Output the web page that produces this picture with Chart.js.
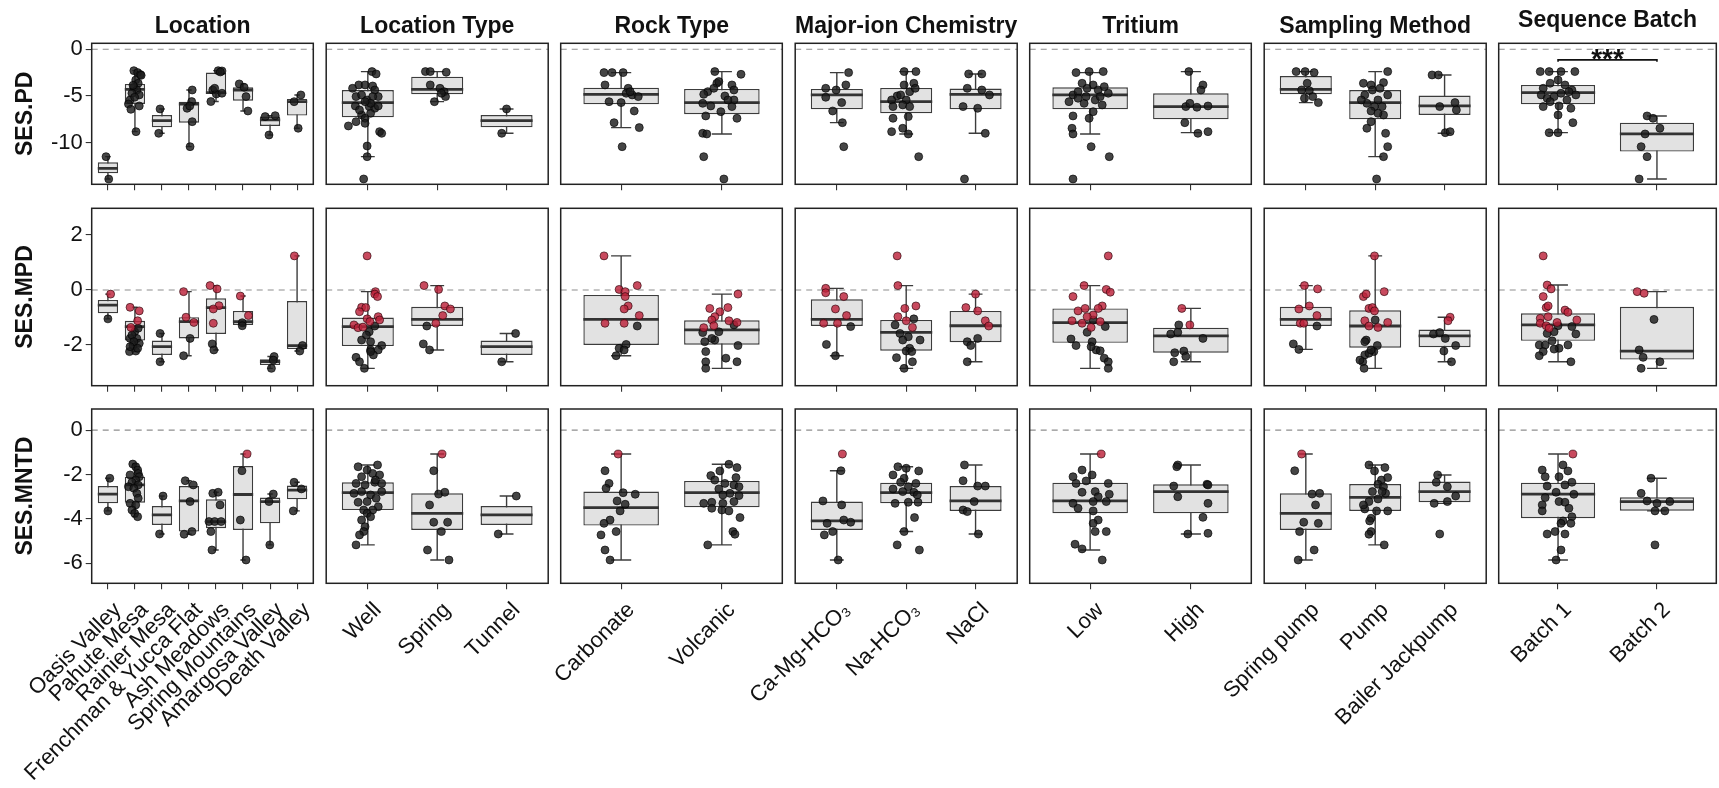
<!DOCTYPE html>
<html>
<head>
<meta charset="utf-8">
<title>SES diversity by grouping</title>
<script src="https://cdn.jsdelivr.net/npm/chart.js@4.4.1/dist/chart.umd.min.js"></script>
<style>
  html, body { margin: 0; padding: 0; background: #fff; overflow: hidden; }
  #fig { position: relative; width: 1719px; height: 788px; }
  #fig canvas { position: absolute; }
  .facet { position: absolute; font: bold 23px "Liberation Sans", Arial, sans-serif; color: #111;
           white-space: nowrap; transform: translate(-50%, -50%); }
</style>
</head>
<body>
<div id="fig"></div>
<script>
// ---------- data ----------
const facetTitles = ["Location", "Location Type", "Rock Type", "Major-ion Chemistry", "Tritium", "Sampling Method", "Sequence Batch"];
const facetCategories = [
  ["Oasis Valley", "Pahute Mesa", "Rainier Mesa", "Frenchman & Yucca Flat", "Ash Meadows", "Spring Mountains", "Amargosa Valley", "Death Valley"],
  ["Well", "Spring", "Tunnel"],
  ["Carbonate", "Volcanic"],
  ["Ca-Mg-HCO₃", "Na-HCO₃", "NaCl"],
  ["Low", "High"],
  ["Spring pump", "Pump", "Bailer Jackpump"],
  ["Batch 1", "Batch 2"]
];
const metricNames = ["SES.PD", "SES.MPD", "SES.MNTD"];
const metricTicks = [[0, -5, -10], [2, 0, -2], [0, -2, -4, -6]];
const metricRanges = [[-14.46, 0.64], [-3.48, 2.97], [-6.9, 0.95]];

// significance bar (Sequence Batch, SES.PD)
const signifPair = [1, 2];
const signifY = -1.14;
const signifTextY = -0.25;
const signifLabel = "***";

// box stats per facet / category: [lower whisker, q1, median, q3, upper whisker]
const pdBoxes = [
  [[-13.9,-13.29,-12.75,-12.1,-11.5],[-8.82,-5.86,-4.29,-3.71,-2.29],[-9.0,-8.36,-7.64,-7.04,-6.39],[-10.43,-7.86,-5.86,-5.61,-4.36],
   [-5.6,-4.79,-4.64,-2.5,-2.29],[-6.61,-5.5,-4.36,-4.07,-3.71],[-9.18,-8.21,-7.57,-7.21,-7.11],[-8.46,-7.1,-5.6,-5.32,-4.89]],
  [[-11.5,-7.29,-5.71,-4.36,-2.39],[-5.61,-4.82,-4.29,-2.93,-2.39],[-9.0,-8.36,-7.64,-7.04,-6.39]],
  [[-8.39,-5.89,-4.82,-4.11,-2.5],[-9.07,-6.96,-5.71,-4.25,-2.39]],
  [[-7.86,-6.43,-4.89,-4.25,-2.5],[-9.07,-6.86,-5.61,-4.14,-2.39],[-9.0,-6.43,-4.82,-4.21,-2.64]],
  [[-9.07,-6.43,-4.89,-4.07,-2.5],[-8.93,-7.5,-6.14,-4.71,-2.39]],
  [[-5.71,-4.82,-4.29,-2.86,-2.39],[-11.5,-7.5,-5.71,-4.36,-2.39],[-9.0,-7.04,-6.07,-4.96,-2.75]],
  [[-8.93,-5.89,-4.64,-3.82,-2.39],[-13.89,-10.96,-9.07,-7.86,-7.14]]
];
const mpdBoxes = [
  [[-1.05,-0.85,-0.55,-0.36,-0.15],[-2.24,-1.84,-1.33,-1.12,-0.63],[-2.61,-2.36,-2.06,-1.84,-1.58],[-2.39,-1.76,-1.15,-0.99,-0.06],
   [-2.18,-1.6,-0.64,-0.3,0.16],[-1.3,-1.27,-1.15,-0.76,-0.22],[-2.85,-2.73,-2.6,-2.52,-2.42],[-2.22,-2.15,-2.02,-0.4,1.24]],
  [[-2.85,-2.04,-1.33,-1.0,-0.06],[-2.18,-1.31,-1.07,-0.61,0.16],[-2.61,-2.36,-2.06,-1.84,-1.58]],
  [[-2.39,-2.0,-1.07,-0.18,1.24],[-2.85,-1.99,-1.45,-1.1,-0.15]],
  [[-2.39,-1.31,-1.07,-0.34,0.06],[-2.85,-2.21,-1.54,-1.09,0.16],[-2.61,-1.9,-1.3,-0.76,-0.15]],
  [[-2.85,-1.92,-1.19,-0.67,0.16],[-2.61,-2.28,-1.67,-1.37,-0.67]],
  [[-2.16,-1.31,-1.07,-0.61,0.16],[-2.85,-2.1,-1.31,-0.74,1.24],[-2.61,-2.08,-1.67,-1.44,-0.99]],
  [[-2.61,-1.85,-1.27,-0.85,0.18],[-2.85,-2.53,-2.22,-0.61,-0.06]]
];
const mntdBoxes = [
  [[-3.64,-3.3,-2.88,-2.52,-2.17],[-3.9,-3.27,-2.47,-2.1,-1.53],[-4.68,-4.27,-3.82,-3.42,-2.97],[-4.69,-4.57,-3.19,-2.52,-2.28],
   [-5.4,-4.42,-4.12,-3.12,-2.8],[-5.85,-4.5,-2.9,-1.62,-1.08],[-5.17,-4.2,-3.22,-3.04,-2.88],[-3.64,-3.12,-2.7,-2.5,-2.35]],
  [[-5.17,-3.6,-2.82,-2.35,-1.57],[-5.85,-4.5,-3.75,-2.85,-1.08],[-4.68,-4.27,-3.82,-3.42,-2.97]],
  [[-5.85,-4.3,-3.49,-2.77,-1.08],[-5.17,-3.48,-2.82,-2.29,-1.54]],
  [[-5.85,-4.5,-4.09,-3.22,-1.83],[-4.57,-3.3,-2.82,-2.37,-1.65],[-4.68,-3.64,-3.19,-2.52,-1.57]],
  [[-5.4,-3.75,-3.19,-2.37,-1.08],[-4.68,-3.75,-2.77,-2.44,-1.57]],
  [[-5.85,-4.5,-3.75,-2.85,-1.08],[-5.17,-3.64,-3.03,-2.43,-1.57],[-3.3,-3.25,-2.77,-2.32,-2.02]],
  [[-5.85,-3.97,-2.88,-2.37,-1.08],[-3.64,-3.63,-3.22,-3.03,-2.17]]
];

// jittered samples per facet / category: [offset from category, value, 1 = significant (red)]
const pdPoints = [
  [
    [[-0.07,-11.5],[0.03,-13.9]],
    [[-0.04,-2.29],[0.1,-2.5],[0.2,-2.71],[0.03,-3.29],[0.12,-3.64],[-0.04,-4.07],[0.07,-4.36],[-0.11,-4.71],[0.16,-4.89],[-0.18,-5.43],[-0.01,-5.14],[-0.24,-5.86],[0.16,-6.07],[-0.15,-6.43],[0.04,-8.82],[-0.07,-3.86],[0.23,-2.79]],
    [[-0.07,-6.39],[-0.12,-9.0]],
    [[0.12,-4.36],[0.1,-5.6],[-0.07,-6.32],[0.03,-6.07],[0.12,-7.75],[0.04,-10.43]],
    [[0.08,-2.29],[0.22,-2.32],[0.16,-2.43],[-0.12,-4.36],[0.01,-4.79],[0.22,-4.71],[-0.19,-5.6],[-0.05,-4.18]],
    [[-0.14,-3.71],[0.04,-4.07],[0.11,-5.07],[0.18,-6.61]],
    [[-0.18,-7.21],[0.19,-7.11],[-0.04,-9.18]],
    [[0.14,-4.89],[-0.11,-5.61],[0.04,-8.46]]
  ],
  [
    [[0.06,-2.39],[0.12,-2.64],[-0.13,-3.82],[-0.04,-3.82],[0.07,-3.93],[0.1,-4.36],[-0.22,-4.18],[0.15,-5.07],[-0.17,-5.07],[-0.09,-4.89],[-0.01,-5.43],[0.07,-5.07],[-0.18,-6.07],[0.02,-6.14],[0.1,-6.32],[0.15,-6.07],[-0.09,-7.04],[0.04,-6.86],[-0.28,-8.21],[-0.04,-7.39],[0.17,-8.82],[0.2,-9.0],[-0.04,-7.93],[-0.01,-10.36],[-0.01,-11.5],[-0.06,-13.89],[-0.17,-7.75],[0.04,-5.79],[-0.12,-6.5],[-0.04,-5.61]],
    [[-0.17,-2.39],[-0.1,-2.39],[0.13,-2.46],[-0.1,-3.82],[0.04,-4.18],[0.1,-4.54],[-0.04,-5.61],[0.12,-5.07],[0.06,-4.71]],
    [[0,-6.39],[-0.07,-9.0]]
  ],
  [
    [[-0.17,-2.5],[-0.09,-2.5],[0.02,-2.5],[-0.16,-3.82],[0.07,-4.18],[0.05,-4.71],[0.11,-4.89],[0.17,-5.07],[-0.12,-5.61],[0,-5.71],[0.13,-6.61],[-0.07,-7.86],[0.18,-8.39],[0.01,-10.43],[0.09,-4.54]],
    [[-0.07,-2.39],[0.19,-2.68],[-0.05,-3.64],[0.1,-3.82],[-0.14,-4.54],[-0.08,-4.18],[0.12,-4.36],[-0.18,-4.82],[0.03,-5.0],[0.12,-5.43],[-0.19,-5.79],[-0.11,-6.07],[0.1,-6.14],[0.15,-7.39],[-0.16,-7.14],[-0.01,-6.68],[-0.19,-9.0],[-0.15,-9.07],[-0.18,-11.5],[0.02,-13.89],[0.06,-5.43],[-0.03,-3.46]]
  ],
  [
    [[0.17,-2.5],[-0.16,-4.18],[-0.01,-4.36],[0.13,-3.82],[-0.16,-5.14],[0.07,-5.71],[-0.06,-6.61],[0.08,-7.86],[0.1,-10.43]],
    [[-0.03,-2.39],[0.14,-2.39],[0.11,-3.64],[-0.03,-3.82],[0.05,-4.54],[-0.13,-5.0],[-0.21,-5.43],[0,-5.43],[-0.05,-5.96],[-0.19,-6.14],[0.03,-7.21],[-0.19,-7.39],[-0.21,-8.82],[-0.05,-8.46],[0.03,-9.07],[0.18,-11.5],[0.13,-4.18],[-0.08,-4.89],[0.05,-6.14]],
    [[-0.1,-2.64],[0.09,-2.64],[-0.12,-4.18],[0.09,-4.36],[0.2,-4.89],[-0.18,-6.14],[0.03,-6.32],[0.14,-9.0],[-0.16,-13.89]]
  ],
  [
    [[-0.14,-2.5],[-0.01,-2.39],[0.13,-2.39],[-0.08,-3.64],[0.03,-3.82],[-0.17,-4.89],[-0.12,-4.54],[-0.03,-4.18],[0.08,-4.36],[0.18,-4.71],[-0.21,-5.61],[-0.06,-5.79],[0.05,-5.43],[0.12,-5.96],[0.03,-6.68],[-0.17,-7.14],[-0.01,-7.39],[-0.18,-8.46],[-0.17,-9.07],[0.01,-10.43],[0.19,-11.5],[-0.17,-13.89],[-0.12,-5.25],[-0.04,-5.07],[0.1,-5.07],[0.14,-4.0]],
    [[-0.02,-2.39],[0.12,-3.82],[0.1,-4.36],[-0.05,-6.14],[0.06,-6.21],[0.17,-6.07],[-0.01,-5.79],[-0.06,-7.86],[0.07,-9.0],[0.17,-8.82]]
  ],
  [
    [[-0.14,-2.39],[-0.01,-2.39],[0.12,-2.5],[0.02,-3.64],[-0.06,-4.36],[0.05,-4.43],[0.1,-5.07],[0.18,-5.71],[-0.02,-5.25]],
    [[0.18,-2.39],[-0.17,-3.64],[-0.06,-3.82],[0.12,-3.57],[-0.04,-4.36],[-0.15,-4.89],[0.07,-4.18],[0.18,-4.89],[0.04,-5.43],[-0.12,-5.79],[-0.01,-6.14],[-0.06,-6.61],[0.12,-7.04],[0.04,-6.86],[-0.12,-8.46],[-0.06,-7.75],[0.15,-9.0],[0.18,-10.43],[0.12,-11.5],[0.02,-13.89],[-0.2,-5.43],[0.1,-6.14]],
    [[-0.18,-2.75],[-0.09,-2.75],[-0.07,-6.14],[0.15,-5.71],[0.17,-6.5],[0.01,-8.93],[0.08,-8.82]]
  ],
  [
    [[-0.18,-2.39],[-0.09,-2.39],[0.03,-2.39],[0.17,-2.39],[-0.15,-4.18],[-0.08,-3.64],[0,-3.29],[0.07,-3.82],[0.14,-4.36],[-0.17,-4.89],[-0.11,-5.25],[-0.04,-5.07],[0.03,-4.71],[0.11,-4.54],[0.18,-4.89],[-0.15,-6.14],[0.01,-6.07],[0.13,-6.32],[-0.08,-5.61],[0.09,-5.43],[0,-7.04],[0.15,-7.86],[-0.09,-8.93],[0,-8.93]],
    [[-0.1,-7.14],[-0.04,-7.39],[0.03,-8.46],[-0.12,-9.07],[-0.16,-10.43],[-0.1,-11.5],[-0.18,-13.89]]
  ]
];
const mpdPoints = [
  [
    [[0.1,-0.15,1],[0,-1.05]],
    [[-0.18,-0.63,1],[0.16,-0.76,1],[0.1,-1.12,1],[-0.15,-1.36,1],[-0.01,-1.52],[-0.18,-1.76],[0.07,-1.76],[-0.07,-2.02],[0.16,-1.94],[-0.2,-2.24],[0.03,-2.22],[-0.11,-1.64],[0.12,-1.39],[-0.04,-1.88],[-0.18,-2.06],[0.1,-2.12]],
    [[-0.07,-1.58],[-0.07,-2.61]],
    [[-0.2,-0.06,1],[-0.11,-0.99,1],[0.18,-1.18,1],[0.04,-1.76],[-0.2,-2.39]],
    [[-0.22,0.16,1],[0.04,0.04,1],[0.11,-0.57,1],[-0.1,-0.69,1],[-0.1,-1.21,1],[-0.14,-1.96],[-0.08,-2.18]],
    [[-0.1,-0.22,1],[0.2,-0.93,1],[-0.03,-1.19],[-0.03,-1.3]],
    [[0.15,-2.42],[0.05,-2.85],[0.12,-2.55]],
    [[-0.1,1.24,1],[0.2,-2.02],[0.1,-2.22]]
  ],
  [
    [[-0.01,1.24,1],[0.11,-0.06,1],[0.1,-0.15,1],[0.14,-0.24,1],[-0.09,-0.63,1],[-0.03,-0.64,1],[-0.12,-0.79,1],[0.15,-0.97,1],[0.17,-1.09,1],[-0.01,-1.05,1],[0.03,-1.15,1],[-0.2,-1.27,1],[-0.14,-1.37,1],[-0.07,-1.35,1],[0.02,-1.52],[0.1,-1.31],[-0.09,-1.82],[0.04,-1.88],[-0.02,-1.64],[0.2,-2.02],[-0.17,-2.45],[-0.12,-2.61],[-0.05,-2.85],[0.04,-2.18],[0.15,-2.18],[0.08,-2.36],[0.04,-2.24]],
    [[-0.19,0.16,1],[0.02,0.02,1],[0.11,-0.58,1],[0.19,-0.69,1],[0.08,-0.93,1],[-0.02,-1.21,1],[-0.15,-1.31],[-0.2,-1.96],[-0.11,-2.18]],
    [[0.13,-1.58],[-0.07,-2.61]]
  ],
  [
    [[-0.17,1.24,1],[0.16,0.16,1],[-0.02,0.02,1],[0.04,-0.06,1],[0.04,-0.24,1],[0.07,-0.58,1],[0.03,-0.69,1],[0.18,-0.93,1],[-0.16,-1.21,1],[0.03,-1.21,1],[0.16,-1.31],[0.05,-1.98],[-0.02,-2.12],[0.03,-2.18],[-0.05,-2.39]],
    [[0.16,-0.15,1],[-0.12,-0.67,1],[0.06,-0.64,1],[-0.02,-0.79,1],[-0.07,-0.97,1],[-0.1,-1.09,1],[0.07,-1.12,1],[0.15,-1.18,1],[-0.18,-1.37,1],[-0.08,-1.3,1],[0.12,-1.27],[-0.19,-1.55],[-0.03,-1.52],[-0.07,-1.82],[-0.17,-1.88],[0.16,-2.02],[-0.16,-2.24],[-0.16,-2.61],[0.04,-2.48],[0.15,-2.61],[-0.16,-2.85],[-0.1,-1.76]]
  ],
  [
    [[-0.16,0.06,1],[-0.16,-0.1,1],[0.1,-0.24,1],[-0.02,-0.69,1],[0.14,-0.93,1],[-0.19,-1.21,1],[0.01,-1.21,1],[0.2,-1.33],[-0.15,-1.98],[-0.02,-2.39]],
    [[-0.13,1.24,1],[-0.12,0.16,1],[-0.02,-0.67,1],[0.14,-0.58,1],[-0.12,-0.97,1],[0,-1.12,1],[0.09,-1.36,1],[0.11,-1.05],[-0.16,-1.27],[-0.09,-1.58],[0.03,-1.7],[-0.05,-1.82],[0.2,-1.82],[0.05,-2.12],[0,-2.22],[-0.14,-2.46],[0.09,-2.61],[-0.03,-2.85],[0.08,-2.24]],
    [[0,-0.15,1],[-0.14,-0.64,1],[0.03,-0.76,1],[0.14,-1.12,1],[0.19,-1.31,1],[-0.12,-1.88],[0.03,-1.76],[-0.07,-2.02],[-0.12,-2.61]]
  ],
  [
    [[0.18,1.24,1],[-0.06,0.16,1],[0.16,0.02,1],[0.2,-0.08,1],[-0.17,-0.24,1],[0.12,-0.58,1],[0.08,-0.67,1],[-0.12,-0.76,1],[-0.05,-0.67,1],[0.03,-0.91,1],[-0.03,-0.97,1],[-0.18,-1.12,1],[-0.08,-1.21,1],[0.1,-1.15,1],[0.01,-1.36,1],[0.03,-1.09],[0.15,-1.33],[-0.03,-1.54],[-0.19,-1.78],[-0.14,-2.02],[0.02,-1.88],[0.06,-2.18],[0.1,-2.21],[0.14,-2.48],[0.18,-2.61],[0.18,-2.85],[0.01,-2.06]],
    [[-0.09,-0.67,1],[-0.01,-1.27,1],[-0.12,-1.27],[-0.2,-1.6],[-0.13,-1.54],[0.12,-1.76],[-0.16,-2.28],[-0.07,-2.22],[-0.05,-2.42],[-0.17,-2.61]]
  ],
  [
    [[-0.02,0.16,1],[0.17,0.04,1],[0.05,-0.58,1],[-0.1,-0.69,1],[0.16,-0.93,1],[-0.08,-1.21,1],[-0.03,-1.21,1],[0.16,-1.31],[-0.18,-1.96],[-0.1,-2.16]],
    [[-0.01,1.24,1],[0.13,-0.06,1],[-0.17,-0.24,1],[-0.13,-0.15,1],[-0.09,-0.67,1],[-0.04,-0.64,1],[-0.01,-0.76,1],[-0.15,-1.12,1],[0.18,-1.18,1],[-0.09,-1.31,1],[0.04,-1.36,1],[0,-1.09],[-0.13,-1.82],[-0.15,-1.88],[0.03,-2.02],[-0.02,-2.24],[-0.15,-2.36],[-0.09,-2.3],[-0.18,-2.61],[-0.16,-2.85],[-0.22,-2.55],[-0.06,-2.18]],
    [[0.08,-0.99,1],[0.05,-1.12,1],[-0.16,-1.6],[-0.07,-1.55],[0.01,-1.76],[0.16,-2.02],[-0.01,-2.22],[0.1,-2.61]]
  ],
  [
    [[-0.15,1.24,1],[-0.11,0.18,1],[-0.07,0.04,1],[-0.15,-0.24,1],[-0.12,-0.64,1],[-0.1,-0.58,1],[0.07,-0.73,1],[0.1,-0.81,1],[-0.18,-1.03,1],[-0.1,-0.97,1],[-0.01,-1.18,1],[-0.18,-1.21,1],[-0.12,-1.3,1],[-0.09,-1.39,1],[0.19,-1.09,1],[0,-1.3],[0.14,-1.33],[0.18,-1.6],[-0.04,-1.52],[-0.11,-1.58],[-0.19,-2.0],[-0.06,-1.85],[-0.13,-2.0],[0.01,-2.12],[0.1,-2.0],[-0.04,-2.15],[-0.15,-2.24],[-0.19,-2.39],[0.13,-2.61]],
    [[-0.2,-0.06,1],[-0.13,-0.12,1],[-0.03,-1.07],[-0.18,-2.18],[-0.14,-2.45],[0.03,-2.61],[-0.16,-2.85]]
  ]
];
const mntdPoints = [
  [
    [[0.07,-2.17],[0,-3.64]],
    [[-0.08,-1.53],[0.03,-1.65],[0.1,-1.8],[0.12,-1.95],[-0.18,-2.02],[0.16,-2.1],[0.03,-2.25],[-0.11,-2.35],[0.12,-2.47],[-0.24,-2.55],[-0.04,-2.62],[0.07,-2.85],[0.12,-3.07],[-0.18,-3.3],[0.03,-3.37],[-0.11,-3.6],[-0.01,-3.75],[0.1,-3.9]],
    [[0.04,-2.97],[-0.09,-4.68]],
    [[-0.14,-2.28],[0.16,-2.47],[0.04,-3.22],[-0.18,-4.69],[0.11,-4.57]],
    [[-0.12,-2.85],[0.08,-2.8],[0.15,-3.37],[-0.26,-4.12],[-0.05,-4.12],[0.19,-4.12],[-0.19,-4.57],[-0.15,-5.4]],
    [[0.15,-1.08,1],[-0.04,-1.83],[-0.1,-4.05],[0.11,-5.85]],
    [[0.12,-2.88],[-0.04,-3.22],[-0.01,-5.17]],
    [[-0.11,-2.35],[0.16,-2.65],[-0.14,-3.64]]
  ],
  [
    [[-0.14,-1.65],[0.14,-1.57],[-0.01,-1.8],[0.07,-1.95],[-0.09,-2.1],[0.17,-2.02],[-0.17,-2.4],[-0.04,-2.47],[0.1,-2.35],[0.2,-2.4],[-0.2,-2.85],[0.04,-2.92],[-0.09,-2.77],[0.12,-3.07],[-0.14,-3.25],[-0.01,-3.22],[0.15,-3.45],[-0.06,-3.6],[0.07,-3.6],[-0.01,-3.75],[-0.09,-4.05],[0.04,-3.9],[-0.04,-4.35],[-0.06,-4.57],[-0.12,-4.72],[-0.17,-5.17],[0.11,-2.25],[0.2,-2.77]],
    [[0.07,-1.08,1],[-0.05,-1.83],[0.02,-2.88],[0.11,-2.8],[-0.11,-3.37],[-0.05,-4.15],[0.15,-4.15],[0.06,-4.57],[-0.14,-5.4],[0.17,-5.85]],
    [[0.14,-2.97],[-0.12,-4.68]]
  ],
  [
    [[-0.03,-1.08,1],[-0.16,-1.83],[-0.12,-2.4],[-0.15,-2.62],[0.02,-2.82],[0.14,-2.89],[-0.04,-3.19],[0.04,-3.34],[-0.01,-3.64],[-0.11,-4.05],[-0.17,-4.2],[-0.05,-4.57],[-0.2,-4.72],[-0.16,-5.4],[-0.11,-5.85]],
    [[0.07,-1.54],[0.15,-1.69],[-0.02,-1.84],[-0.11,-2.05],[0.14,-2.14],[-0.07,-2.25],[0.03,-2.4],[0.12,-2.47],[-0.03,-2.65],[0.17,-2.55],[0.08,-2.85],[0.01,-2.92],[0.17,-2.95],[-0.18,-3.3],[-0.1,-3.25],[0.01,-3.3],[0.12,-3.22],[-0.1,-3.52],[0,-3.6],[0.07,-3.64],[0.18,-3.94],[0.11,-4.57],[0.13,-4.69],[-0.14,-5.17]]
  ],
  [
    [[0.08,-1.08,1],[0.06,-1.83],[-0.2,-3.19],[0.07,-3.37],[-0.14,-4.2],[0.1,-4.05],[0.2,-4.15],[-0.06,-4.57],[-0.18,-4.72],[0.02,-5.85]],
    [[-0.12,-1.65],[0,-1.72],[0.18,-1.84],[-0.19,-2.02],[-0.03,-2.17],[-0.08,-2.35],[0.14,-2.4],[0.03,-2.55],[-0.19,-2.65],[-0.05,-2.77],[0.11,-2.8],[0.16,-2.92],[-0.16,-3.3],[0.03,-3.25],[0.17,-3.25],[0.12,-3.94],[-0.03,-4.57],[-0.13,-5.17],[0.19,-5.4]],
    [[-0.16,-1.57],[-0.18,-2.28],[0.03,-2.52],[0.14,-2.52],[-0.02,-3.22],[-0.18,-3.6],[-0.12,-3.67],[0.04,-4.68]]
  ],
  [
    [[0.11,-1.08,1],[-0.08,-1.8],[0.02,-2.02],[-0.17,-2.1],[-0.14,-2.4],[-0.04,-2.29],[0.18,-2.4],[0.05,-2.77],[-0.08,-2.8],[0.19,-2.89],[0.08,-3.0],[0.16,-3.22],[-0.17,-3.3],[0.03,-3.22],[-0.12,-3.52],[0.03,-3.64],[0.08,-4.05],[0.03,-4.2],[0.05,-4.57],[0.16,-4.57],[-0.15,-5.14],[-0.08,-5.35],[0.12,-5.85]],
    [[-0.13,-1.57],[-0.14,-1.65],[-0.17,-2.52],[0.16,-2.44],[0.17,-2.47],[-0.13,-3.0],[0.17,-3.3],[0.12,-3.93],[-0.03,-4.68],[0.17,-4.65]]
  ],
  [
    [[-0.06,-1.08,1],[-0.16,-1.83],[0.09,-2.88],[0.2,-2.85],[0.14,-3.37],[-0.03,-4.15],[0.18,-4.2],[-0.09,-4.57],[0.12,-5.4],[-0.11,-5.85]],
    [[-0.09,-1.57],[0.14,-1.69],[-0.01,-1.84],[0.09,-2.25],[0.18,-2.14],[0.04,-2.44],[0.12,-2.55],[-0.04,-2.77],[0.15,-2.85],[0.04,-3.1],[-0.09,-3.22],[-0.15,-3.55],[0.02,-3.64],[0.18,-3.64],[-0.06,-3.97],[-0.08,-4.09],[-0.06,-4.57],[-0.09,-4.69],[0.13,-5.17],[-0.17,-3.37],[0.1,-2.77]],
    [[-0.1,-2.02],[-0.12,-2.35],[0.04,-2.55],[0.16,-2.97],[-0.15,-3.3],[0.04,-3.22],[-0.07,-4.68]]
  ],
  [
    [[0.15,-1.08,1],[-0.16,-1.8],[0.05,-1.57],[0.1,-1.84],[-0.13,-2.1],[0.01,-2.1],[0.14,-2.35],[-0.11,-2.52],[0.07,-2.47],[-0.02,-2.8],[0.16,-2.89],[-0.13,-3.04],[0.01,-3.22],[0.07,-3.25],[-0.16,-3.37],[0.11,-3.52],[-0.16,-3.64],[0.14,-3.9],[0.05,-4.09],[0.03,-4.2],[0.13,-4.2],[-0.03,-4.57],[-0.11,-4.68],[0.07,-4.68],[0.03,-5.4],[-0.02,-5.85]],
    [[-0.06,-2.17],[-0.16,-2.85],[-0.1,-3.19],[0,-3.3],[0.13,-3.22],[-0.02,-3.64],[0.08,-3.64],[-0.02,-5.17]]
  ]
];

// ---------- layout & style ----------
const FONT = '"Liberation Sans", Arial, sans-serif';
Chart.defaults.font.family = FONT;

const panelLeft0 = 91.7, panelPitch = 234.5;
const panelWidths = [222, 222, 222, 222, 222, 222, 217.8];
const rowTop = [43.3, 208.3, 409];
const rowBottom = [184.3, 385.7, 583.3];
const titleY = [25, 25, 25, 25, 25, 25, 18.5];
const BOX_HALF = 0.375, CAP_HALF = 0.1;

const boxData = [pdBoxes, mpdBoxes, mntdBoxes];
const pointData = [pdPoints, mpdPoints, mntdPoints];
const fig = document.getElementById("fig");

// panel border
const framePlugin = {
  id: "frame",
  afterDraw(chart) {
    const { ctx, chartArea: a } = chart;
    ctx.save();
    ctx.strokeStyle = "#222";
    ctx.lineWidth = 1.5;
    ctx.strokeRect(a.left, a.top, a.right - a.left, a.bottom - a.top);
    ctx.restore();
  }
};

// "***" label above the bracket
const signifPlugin = {
  id: "signif",
  afterDatasetsDraw(chart) {
    const { ctx, scales } = chart;
    const px = scales.x.getPixelForValue((signifPair[0] + signifPair[1]) / 2);
    const py = scales.y.getPixelForValue(signifTextY);
    ctx.save();
    ctx.font = "bold 28px " + FONT;
    ctx.fillStyle = "#111";
    ctx.textAlign = "center";
    ctx.textBaseline = "alphabetic";
    ctx.fillText(signifLabel, px, py + 0.575 * 28);
    ctx.restore();
  }
};

function buildPanel(row, col) {
  const cats = facetCategories[col];
  const n = cats.length;
  const boxes = boxData[row][col];
  const pts = pointData[row][col];

  const pl = panelLeft0 + col * panelPitch, pr = pl + panelWidths[col];
  const pt = rowTop[row], pb = rowBottom[row];
  const cl = col === 0 ? 0 : Math.floor(pl - 118);
  const ct = Math.floor(pt - 16);
  const cr = Math.ceil(pr + 4);
  const cb = row === 2 ? 788 : Math.ceil(pb + 12);

  const cv = document.createElement("canvas");
  cv.width = cr - cl;
  cv.height = cb - ct;
  cv.style.left = cl + "px";
  cv.style.top = ct + "px";
  fig.appendChild(cv);

  const whiskers = [], medians = [], bars = [], black = [], red = [];
  boxes.forEach((b, i) => {
    const x = i + 1;
    whiskers.push({ x, y: b[0] }, { x, y: b[4] }, { x, y: null },
      { x: x - CAP_HALF, y: b[4] }, { x: x + CAP_HALF, y: b[4] }, { x, y: null },
      { x: x - CAP_HALF, y: b[0] }, { x: x + CAP_HALF, y: b[0] }, { x, y: null });
    medians.push({ x: x - BOX_HALF, y: b[2] }, { x: x + BOX_HALF, y: b[2] }, { x, y: null });
    bars.push({ x, y: [b[1], b[3]] });
    pts[i].forEach(p => (p[2] ? red : black).push({ x: x + p[0], y: p[1] }));
  });

  const lineBase = { type: "line", pointRadius: 0, pointHitRadius: 0, tension: 0, fill: false, spanGaps: false };
  const datasets = [
    Object.assign({}, lineBase, { data: [{ x: 0.4, y: 0 }, { x: n + 0.6, y: 0 }], borderColor: "#8e8e8e", borderWidth: 1.1, borderDash: [6, 5], order: 6 }),
    Object.assign({}, lineBase, { data: whiskers, borderColor: "#3c3c3c", borderWidth: 1.4, order: 5 }),
    { type: "bar", data: bars, backgroundColor: "#e2e2e2", borderColor: "#3c3c3c", borderWidth: 1.4, borderSkipped: false,
      barPercentage: 0.75, categoryPercentage: 1, order: 4 },
    Object.assign({}, lineBase, { data: medians, borderColor: "#333", borderWidth: 2.8, borderCapStyle: "butt", order: 3 }),
    { type: "scatter", data: black, pointRadius: 4, pointHoverRadius: 4, backgroundColor: "rgba(28,28,28,0.82)",
      borderColor: "rgba(0,0,0,0.9)", borderWidth: 0.7, order: 1 },
    { type: "scatter", data: red, pointRadius: 4, pointHoverRadius: 4, backgroundColor: "rgba(188,34,58,0.82)",
      borderColor: "rgba(40,5,10,0.9)", borderWidth: 0.7, order: 0 }
  ];
  const plugins = [framePlugin];
  if (row === 0 && col === 6) {
    const a = signifPair[0], b = signifPair[1];
    datasets.push(Object.assign({}, lineBase, {
      data: [{ x: a, y: signifY - 0.2 }, { x: a, y: signifY }, { x: b, y: signifY }, { x: b, y: signifY - 0.2 }],
      borderColor: "#111", borderWidth: 1.6, order: 2 }));
    plugins.push(signifPlugin);
  }

  new Chart(cv, {
    type: "scatter",
    data: { datasets },
    options: {
      responsive: false,
      animation: false,
      events: [],
      devicePixelRatio: 1,
      layout: { padding: { left: col === 0 ? 0 : pl - cl, right: cr - pr, top: pt - ct, bottom: 0 } },
      plugins: { legend: { display: false }, tooltip: { enabled: false } },
      scales: {
        x: {
          type: "linear", min: 0.4, max: n + 0.6, bounds: "data", offset: false,
          afterBuildTicks: s => { s.ticks = cats.map((c, i) => ({ value: i + 1 })); },
          afterFit: s => { s.height = cb - pb; s.paddingLeft = 0; s.paddingRight = 0; },
          grid: { drawOnChartArea: false, drawTicks: true, tickLength: 6, color: "#333", lineWidth: 1.1, offset: false },
          border: { display: false },
          ticks: {
            display: row === 2, autoSkip: false, minRotation: 45, maxRotation: 45,
            padding: 8, labelOffset: 10, color: "#111", font: { size: 22 },
            callback: v => cats[Math.round(v) - 1]
          }
        },
        y: {
          type: "linear", display: col === 0, min: metricRanges[row][0], max: metricRanges[row][1], bounds: "data",
          afterBuildTicks: s => { s.ticks = metricTicks[row].map(v => ({ value: v })); },
          afterFit: s => { if (col === 0) s.width = pl; s.paddingTop = 0; s.paddingBottom = 0; },
          grid: { drawOnChartArea: false, drawTicks: true, tickLength: 6, color: "#333", lineWidth: 1.1 },
          border: { display: false },
          ticks: { padding: 3, color: "#111", font: { size: 22 }, callback: v => String(v) },
          title: { display: true, text: metricNames[row], color: "#111", font: { size: 23, weight: "bold" }, padding: { top: 12, bottom: 0 } }
        }
      }
    },
    plugins
  });
}

for (let r = 0; r < 3; r++) {
  for (let c = 0; c < facetTitles.length; c++) buildPanel(r, c);
}

facetTitles.forEach((t, c) => {
  const d = document.createElement("div");
  d.className = "facet";
  d.textContent = t;
  d.style.left = (panelLeft0 + c * panelPitch + panelWidths[c] / 2) + "px";
  d.style.top = titleY[c] + "px";
  fig.appendChild(d);
});
</script>
</body>
</html>
